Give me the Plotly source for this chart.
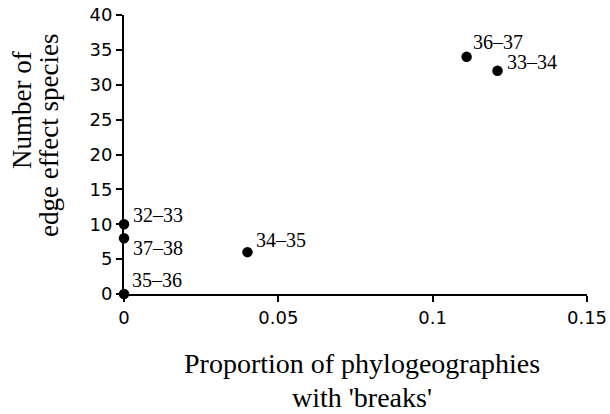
import plotly.graph_objects as go

# Data
periods = ["32–33", "33–34", "34–35", "35–36", "36–37", "37–38"]
prop_breaks = [0.0, 0.121, 0.040, 0.0, 0.111, 0.0]
edge_species = [10, 32, 6, 0, 34, 8]

x_ticks = [0, 0.05, 0.1, 0.15]
x_tick_labels = ["0", "0.05", "0.1", "0.15"]
y_ticks = [0, 5, 10, 15, 20, 25, 30, 35, 40]

# label offsets in pixels (style)
label_dx = {"32–33": 7, "33–34": 8, "34–35": 7, "35–36": 6, "36–37": 4, "37–38": 7}
label_dy = {"32–33": 9, "33–34": 9, "34–35": 12, "35–36": 14, "36–37": 15, "37–38": -10}

W, H = 610, 414
ml, mr, mt, mb = 124, 23, 15, 120
pw, ph = W - ml - mr, H - mt - mb

fig = go.Figure()
fig.add_trace(go.Scatter(
    x=prop_breaks, y=edge_species, mode="markers",
    marker=dict(color="black", size=10.5),
    cliponaxis=False, showlegend=False, hoverinfo="skip",
))

serif = "Liberation Serif, Times New Roman, serif"
ann = []
for p, xv, yv in zip(periods, prop_breaks, edge_species):
    ann.append(dict(x=xv, y=yv, xref="x", yref="y", text=p, showarrow=False,
                    xanchor="left", yanchor="middle",
                    xshift=label_dx[p], yshift=label_dy[p],
                    font=dict(family=serif, size=20, color="black")))


def px_to_paper_x(px):
    return (px - ml) / pw


def px_to_paper_y(py):
    return (H - mb - py) / ph


# y-axis title lines
ann.append(dict(x=px_to_paper_x(22), y=px_to_paper_y(110), xref="paper", yref="paper",
                text="Number of", textangle=-90, showarrow=False,
                xanchor="center", yanchor="middle",
                font=dict(family=serif, size=27, color="black")))
ann.append(dict(x=px_to_paper_x(49), y=px_to_paper_y(136), xref="paper", yref="paper",
                text="edge effect species", textangle=-90, showarrow=False,
                xanchor="center", yanchor="middle",
                font=dict(family=serif, size=27, color="black")))
# x-axis title lines
ann.append(dict(x=px_to_paper_x(362), y=px_to_paper_y(363), xref="paper", yref="paper",
                text="Proportion of phylogeographies", showarrow=False,
                xanchor="center", yanchor="middle",
                font=dict(family=serif, size=28, color="black")))
ann.append(dict(x=px_to_paper_x(362), y=px_to_paper_y(397), xref="paper", yref="paper",
                text="with 'breaks'", showarrow=False,
                xanchor="center", yanchor="middle",
                font=dict(family=serif, size=28, color="black")))

tickfont = dict(family="DejaVu Sans, Verdana, sans-serif", size=18, color="black")

fig.update_layout(
    width=W, height=H,
    margin=dict(l=ml, r=mr, t=mt, b=mb),
    paper_bgcolor="white", plot_bgcolor="white",
    annotations=ann,
    xaxis=dict(range=[0, 0.15], tickvals=x_ticks, ticktext=x_tick_labels,
               showgrid=False, zeroline=False, showline=True, linecolor="black",
               linewidth=2, ticks="outside", ticklen=6, tickwidth=2, tickcolor="black",
               tickfont=tickfont, fixedrange=True, automargin=False,
               ticklabeloverflow="allow"),
    yaxis=dict(range=[0, 40], tickvals=y_ticks,
               showgrid=False, zeroline=False, showline=True, linecolor="black",
               linewidth=2, ticks="outside", ticklen=6, tickwidth=2, tickcolor="black",
               tickfont=tickfont, fixedrange=True, automargin=False,
               ticklabeloverflow="allow"),
)

# remove the browser's default 8px body margin so the figure fills the window
fig.write_html("out.html", config={"displayModeBar": False},
               post_script="document.body.style.margin='0';")
